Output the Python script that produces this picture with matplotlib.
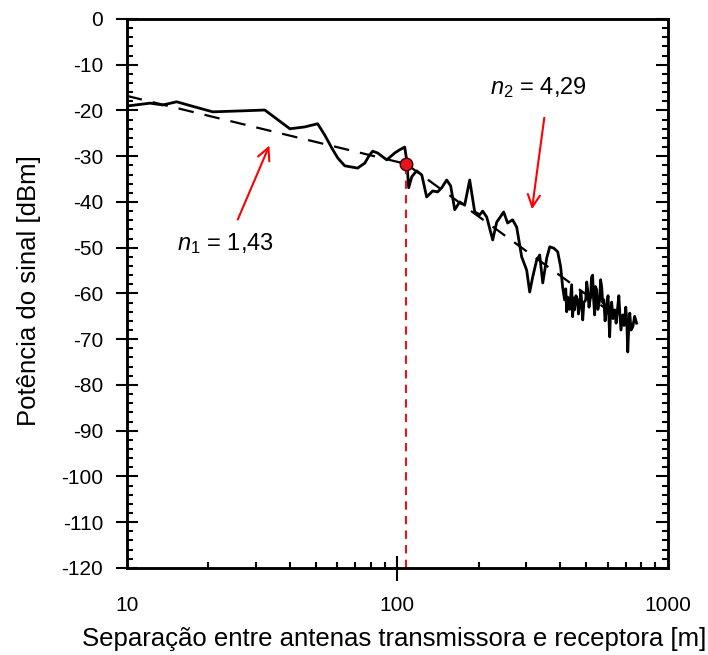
import matplotlib
matplotlib.use('Agg')
import matplotlib.pyplot as plt
from matplotlib.ticker import FixedLocator, MultipleLocator, NullFormatter

plt.rcParams['font.family'] = ['Liberation Sans', 'DejaVu Sans']
plt.rcParams['mathtext.fontset'] = 'custom'
plt.rcParams['mathtext.rm'] = 'Liberation Sans'
plt.rcParams['mathtext.it'] = 'Liberation Sans:italic'
plt.rcParams['axes.unicode_minus'] = False

# measured received power vs distance
dist = [10.1, 12.2, 13.6, 15.3, 17.8, 20.8, 26.2, 32.4, 40.1, 45.5, 50.8, 54.0,
        57.3, 60.3, 64.0, 71.4, 75.9, 79.1, 81.2, 84.7, 91.5, 97.9, 102.1, 106.6,
        108.4, 110.3, 113.2, 118.0, 123.3, 128.5, 135.3, 141.1, 146.1, 152.4,
        157.7, 163.2, 170.2, 177.6, 185.4, 193.5, 201.9, 207.1, 214.3, 225.5,
        233.4, 247.6, 256.0, 267.1, 276.6, 288.6, 301.1, 309.0, 317.0, 327.9,
        336.5, 345.3, 357.4, 366.5, 379.2, 392.2, 402.2, 409.0, 415.9, 420.0,
        423.4, 426.9, 434.0, 441.6, 445.3, 449.0, 452.8, 458.0, 464.6, 468.0,
        472.7, 478.0, 485.3, 490.0, 497.9, 502.0, 506.1, 512.0, 519.2, 523.0,
        528.0, 532.0, 537.2, 541.0, 546.4, 552.0, 560.8, 565.0, 570.4, 575.3,
        581.0, 587.0, 594.9, 602.0, 610.4, 615.0, 620.9, 628.0, 637.1, 645.0,
        653.7, 660.0, 665.0, 672.0, 682.3, 690.0, 700.1, 706.0, 712.1, 718.0,
        724.4, 732.0, 743.3, 755.0, 767.6]
power = [-19.0, -18.4, -18.8, -18.1, -19.2, -20.3, -20.1, -19.9, -24.0, -23.6,
         -22.9, -25.4, -28.2, -30.4, -32.1, -32.6, -31.5, -29.7, -28.9, -29.3,
         -30.8, -29.3, -28.6, -28.0, -30.8, -36.9, -34.5, -33.2, -34.1, -38.9,
         -37.6, -37.8, -36.9, -35.2, -36.5, -41.7, -40.0, -40.7, -35.2, -42.2,
         -42.8, -42.0, -43.3, -48.3, -44.4, -42.2, -44.6, -43.9, -45.5, -52.0,
         -54.9, -59.7, -56.4, -52.7, -51.6, -57.7, -52.2, -49.8, -50.1, -50.9,
         -54.2, -58.6, -61.4, -59.0, -64.0, -60.8, -63.5, -58.1, -65.1, -61.0,
         -63.6, -60.5, -61.4, -64.5, -62.5, -59.5, -65.8, -62.0, -61.4, -57.5,
         -59.2, -63.0, -60.5, -56.5, -56.0, -61.0, -64.7, -58.5, -59.2, -63.5,
         -61.4, -57.0, -58.6, -62.0, -61.4, -66.0, -63.0, -60.5, -69.5, -64.0,
         -61.9, -65.5, -63.6, -66.5, -63.0, -60.5, -64.0, -68.0, -64.7, -67.0,
         -63.0, -66.0, -72.8, -67.5, -64.3, -68.0, -67.3, -65.0, -66.5]

# two-slope fit (n1 = 1.43, n2 = 4.29), break point
fit1_d = [10, 108]
fit1_p = [-16.8, -31.7]
fit2_d = [108, 700]
fit2_p = [-31.7, -66.5]
break_d = 108
break_p = -31.7

fig = plt.figure(figsize=(7.08, 6.55), dpi=100)
ax = fig.add_axes([0.179, 0.133, 0.764, 0.838])

ax.plot(dist, power, color='black', lw=2.0)
ax.plot(fit1_d, fit1_p, color='black', lw=1.6, dashes=(7, 5))
ax.plot(fit2_d, fit2_p, color='black', lw=1.6, dashes=(7, 5))
ax.plot([break_d, break_d], [-120, break_p], color='#e8141c', lw=1.5, dashes=(4, 3))
ax.plot(break_d, break_p, 'o', ms=9, mfc='#e8141c', mec='#300000', mew=1)

ax.annotate('', xy=(34.0, -27.1), xytext=(25.5, -44.4),
            arrowprops=dict(arrowstyle='->', color='red', lw=1.5, mutation_scale=22))
ax.annotate('', xy=(314, -42.2), xytext=(351, -21.0),
            arrowprops=dict(arrowstyle='->', color='red', lw=1.5, mutation_scale=22))
ax.text(15.4, -49.0, r'$n_1$ = 1,43', fontsize=17, va='center', ha='left')
ax.text(220, -14.9, r'$n_2$ = 4,29', fontsize=17, va='center', ha='left')

ax.set_xscale('log')
ax.set_xlim(10, 1000)
ax.set_ylim(-120, 0)

ax.xaxis.set_major_locator(FixedLocator([10, 100, 1000]))
ax.xaxis.set_major_formatter(plt.FixedFormatter(['10', '100', '1000']))
ax.xaxis.set_minor_locator(FixedLocator([20, 30, 40, 50, 60, 70, 80, 90,
                                         200, 300, 400, 500, 600, 700, 800, 900]))
ax.xaxis.set_minor_formatter(NullFormatter())
ax.yaxis.set_major_locator(MultipleLocator(10))
ax.yaxis.set_minor_locator(MultipleLocator(2))

ax.tick_params(axis='x', which='major', direction='inout', length=18, width=1.5,
               pad=11, labelsize=15, top=False)
ax.tick_params(axis='x', which='minor', direction='in', length=4.5, width=1.5, top=False)
ax.tick_params(axis='y', which='major', direction='inout', length=16, width=1.5,
               pad=9, labelsize=15, right=False)
ax.tick_params(axis='y', which='minor', direction='in', length=4.5, width=1.5, right=False)
xt = ax.xaxis.get_major_ticks()
xt[0].tick1line.set_visible(False)
xt[2].tick1line.set_visible(False)

# right side ticks point inward only
ax2 = ax.twinx()
ax2.set_ylim(-120, 0)
ax2.yaxis.set_major_locator(MultipleLocator(10))
ax2.yaxis.set_minor_locator(MultipleLocator(2))
ax2.tick_params(which='major', direction='in', length=9, width=1.5, labelright=False)
ax2.tick_params(which='minor', direction='in', length=4.5, width=1.5)

for a in (ax, ax2):
    for s in a.spines.values():
        s.set_linewidth(1.8)

ax.set_xlabel('Separação entre antenas transmissora e receptora [m]', fontsize=18.5)
ax.set_ylabel('Potência do sinal [dBm]', fontsize=18.5)
ax.xaxis.set_label_coords(0.495, -0.107)
ax.yaxis.set_label_coords(-0.158, 0.506)

fig.savefig('out.png', dpi=100)
